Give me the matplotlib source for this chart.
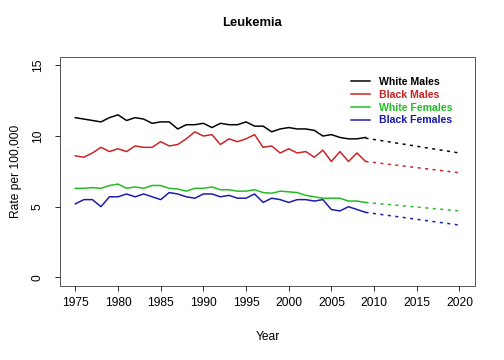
import matplotlib
matplotlib.use("Agg")
import matplotlib.pyplot as plt
import numpy as np

plt.rcParams['font.family'] = ['Liberation Sans', 'DejaVu Sans']

years = list(range(1975, 2010))
white_males = [11.3, 11.2, 11.1, 11.0, 11.3, 11.5, 11.1, 11.3, 11.2, 10.9, 11.0, 11.0, 10.5, 10.8, 10.8,
               10.9, 10.6, 10.9, 10.8, 10.8, 11.0, 10.7, 10.7, 10.3, 10.5, 10.6, 10.5, 10.5, 10.4, 10.0,
               10.1, 9.9, 9.8, 9.8, 9.9]
black_males = [8.6, 8.5, 8.8, 9.2, 8.9, 9.1, 8.9, 9.3, 9.2, 9.2, 9.6, 9.3, 9.4, 9.8, 10.3,
               10.0, 10.1, 9.4, 9.8, 9.6, 9.8, 10.1, 9.2, 9.3, 8.8, 9.1, 8.8, 8.9, 8.5, 9.0,
               8.2, 8.9, 8.2, 8.8, 8.2]
white_females = [6.3, 6.3, 6.35, 6.3, 6.5, 6.6, 6.3, 6.4, 6.3, 6.5, 6.5, 6.3, 6.25, 6.1, 6.3,
                 6.3, 6.4, 6.2, 6.2, 6.1, 6.1, 6.2, 6.0, 5.95, 6.1, 6.05, 6.0, 5.8, 5.7, 5.6,
                 5.6, 5.6, 5.4, 5.4, 5.3]
black_females = [5.2, 5.5, 5.5, 5.0, 5.7, 5.7, 5.9, 5.7, 5.9, 5.7, 5.5, 6.0, 5.9, 5.7, 5.6,
                 5.9, 5.9, 5.7, 5.8, 5.6, 5.6, 5.9, 5.3, 5.6, 5.5, 5.3, 5.5, 5.5, 5.4, 5.5,
                 4.8, 4.7, 5.0, 4.8, 4.6]

proj_years = [2009, 2020]
proj_white_males = [9.85, 8.8]
proj_black_males = [8.2, 7.4]
proj_white_females = [5.3, 4.7]
proj_black_females = [4.6, 3.7]

labels = ["White Males", "Black Males", "White Females", "Black Females"]
colors = ["#000000", "#cc2222", "#22bb22", "#1a1aaa"]
series = [white_males, black_males, white_females, black_females]
projs = [proj_white_males, proj_black_males, proj_white_females, proj_black_females]

xticks = list(range(1975, 2021, 5))
yticks = [0, 5, 10, 15]

fig = plt.figure(figsize=(7, 5), dpi=72)
ax = fig.add_axes([0.119, 0.206, 0.823, 0.636])

handles = []
for s, p, c, lab in zip(series, projs, colors, labels):
    h, = ax.plot(years, s, color=c, lw=1.5, label=lab)
    ax.plot(proj_years, p, color=c, lw=1.5, ls=(0, (2, 3)))
    handles.append(h)

ax.set_xlim(1973.2, 2021.8)
ax.set_ylim(-0.6, 15.6)
ax.set_xticks(xticks)
ax.set_yticks(yticks)
ax.tick_params(direction='out', length=5, labelsize=12, width=0.8, pad=6)
ax.tick_params(axis='y', pad=11)
for lbl in ax.get_yticklabels():
    lbl.set_rotation(90)
    lbl.set_va('center')
for sp in ax.spines.values():
    sp.set_visible(False)
# R-style box
ax.add_patch(plt.Rectangle((0, 0), 1, 1, transform=ax.transAxes, fill=False, lw=0.8, ec='#333333', clip_on=False))

ax.set_xlabel("Year", fontsize=12, labelpad=22)
ax.set_ylabel("Rate per 100,000", fontsize=12, labelpad=10)
fig.text(0.5, 0.935, "Leukemia", ha='center', va='center', fontsize=13, fontweight='bold')

leg = ax.legend(handles=handles, loc='upper left', bbox_to_anchor=(0.68, 0.955), frameon=False,
                handlelength=1.8, handletextpad=0.8, labelspacing=0.28,
                labelcolor=colors, prop={'weight': 'bold', 'size': 10.5})

fig.savefig("out.png", dpi=72)
